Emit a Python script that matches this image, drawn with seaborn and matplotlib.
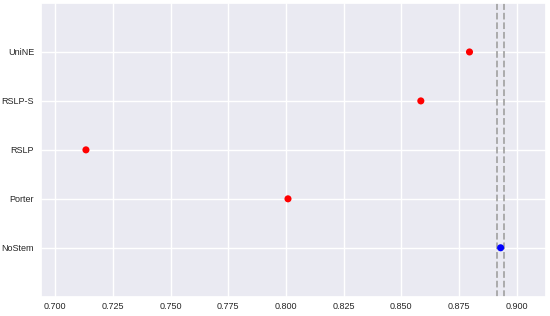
import pandas as pd
import matplotlib.pyplot as plt
import seaborn as sns

# Stemmer scores (bottom to top)
stemmers = ['NoStem', 'Porter', 'RSLP', 'RSLP-S', 'UniNE']
scores = [0.8931, 0.8009, 0.7133, 0.8585, 0.8796]
groups = ['baseline', 'other', 'other', 'other', 'other']

# confidence band around the baseline
ci_low = 0.8916
ci_high = 0.8944

data = pd.DataFrame({'Stemmer': stemmers, 'Score': scores, 'Group': groups})

sns.set_theme(style='darkgrid')
plt.rcParams['font.family'] = ['Liberation Sans', 'DejaVu Sans']

fig = plt.figure(figsize=(5.5, 3.16), dpi=100)
ax = fig.add_axes([0.0745, 0.061, 0.9175, 0.9295])

sns.scatterplot(
    data=data,
    x='Score',
    y='Stemmer',
    hue='Group',
    palette={'baseline': 'blue', 'other': 'red'},
    s=26,
    edgecolor='none',
    legend=False,
    ax=ax,
    zorder=3
)

ax.axvline(ci_low, color='#a6a6a6', linestyle='--', linewidth=1.3, zorder=2)
ax.axvline(ci_high, color='#a6a6a6', linestyle='--', linewidth=1.3, zorder=2)

ax.set_xlim(0.6938, 0.9126)
ax.set_ylim(-1, 5)
ax.set_xticks([0.700, 0.725, 0.750, 0.775, 0.800, 0.825, 0.850, 0.875, 0.900])
ax.set_xticklabels([f'{t:.3f}' for t in ax.get_xticks()])
ax.tick_params(axis='x', labelsize=6.5, length=0, pad=4)
ax.tick_params(axis='y', labelsize=6.5, length=0, pad=5)
ax.set_xlabel('')
ax.set_ylabel('')

plt.savefig('out.png', dpi=100)
